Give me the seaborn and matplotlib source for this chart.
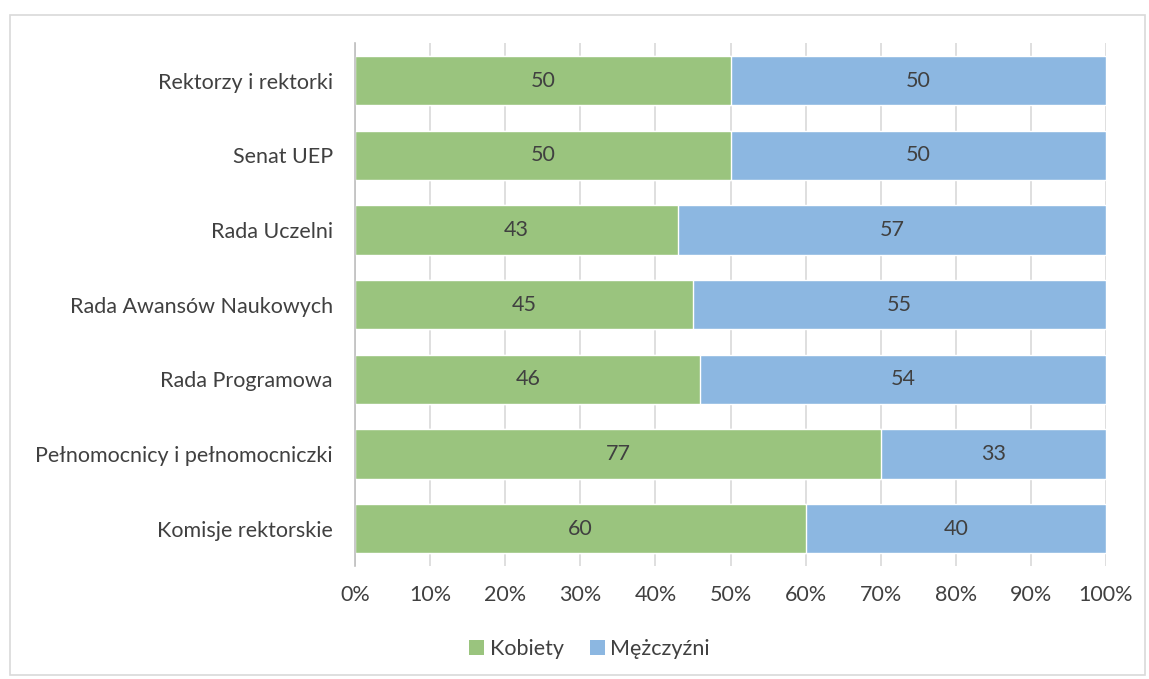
import matplotlib
matplotlib.use("Agg")
import matplotlib.pyplot as plt
import seaborn as sns
import pandas as pd
import numpy as np
from matplotlib.patches import Patch, Rectangle

categories = ["Rektorzy i rektorki", "Senat UEP", "Rada Uczelni", "Rada Awansów Naukowych",
              "Rada Programowa", "Pełnomocnicy i pełnomocniczki", "Komisje rektorskie"]
kobiety = [50, 50, 43, 45, 46, 77, 60]
mezczyzni = [50, 50, 57, 55, 54, 33, 40]
series_names = ["Kobiety", "Mężczyźni"]
xtick_labels = ["0%", "10%", "20%", "30%", "40%", "50%", "60%", "70%", "80%", "90%", "100%"]

GREEN = "#9AC47E"
BLUE = "#8CB7E1"
TEXT = "#404040"
FS = 15.5

sns.set_theme(style="white")
plt.rcParams["font.family"] = ["Lato", "DejaVu Sans"]

k = np.array(kobiety, dtype=float)
m = np.array(mezczyzni, dtype=float)
tot = k + m
df = pd.DataFrame({"cat": categories, "k_share": k / tot, "total": tot / tot})

fig = plt.figure(figsize=(11.49, 6.79), dpi=100)
ax = fig.add_axes([0.309, 0.1664, 0.6536, 0.770])

sns.barplot(data=df, x="total", y="cat", color=BLUE, saturation=1, width=0.66, ax=ax, orient="h")
sns.barplot(data=df, x="k_share", y="cat", color=GREEN, saturation=1, width=0.66, ax=ax, orient="h")

for i in range(len(categories)):
    ks = k[i] / tot[i]
    ax.text(ks / 2, i, f"{kobiety[i]:g}", ha="center", va="center", fontsize=FS, color=TEXT)
    ax.text(ks + (1 - ks) / 2, i, f"{mezczyzni[i]:g}", ha="center", va="center", fontsize=FS, color=TEXT)

ax.set_xlim(0, 1)
ax.set_ylim(len(categories) - 0.5, -0.5)
ax.set_xticks(np.linspace(0, 1, 11))
ax.set_xticklabels(xtick_labels)
ax.xaxis.grid(True, color="#D9D9D9", linewidth=1.2)
ax.set_axisbelow(True)
ax.set_xlabel("")
ax.set_ylabel("")
for s in ["top", "right", "bottom"]:
    ax.spines[s].set_visible(False)
ax.spines["left"].set_color("#BFBFBF")
ax.spines["left"].set_linewidth(1.2)
ax.tick_params(axis="both", length=0, labelsize=FS, colors=TEXT)
ax.tick_params(axis="x", pad=14)
ax.tick_params(axis="y", pad=16)

handles = [Patch(facecolor=GREEN, edgecolor="none", label=series_names[0]),
           Patch(facecolor=BLUE, edgecolor="none", label=series_names[1])]
fig.legend(handles=handles, loc="center", bbox_to_anchor=(0.513, 0.044), ncol=2, frameon=False,
           fontsize=FS, handlelength=0.7, handleheight=0.7, handletextpad=0.25, columnspacing=1.2,
           labelcolor=TEXT)

fig.patches.append(Rectangle((10 / 1149, 4 / 679), 1135 / 1149, 660 / 679, transform=fig.transFigure,
                             fill=False, edgecolor="#D9D9D9", linewidth=1.2))

fig.savefig("out.png", dpi=100)
